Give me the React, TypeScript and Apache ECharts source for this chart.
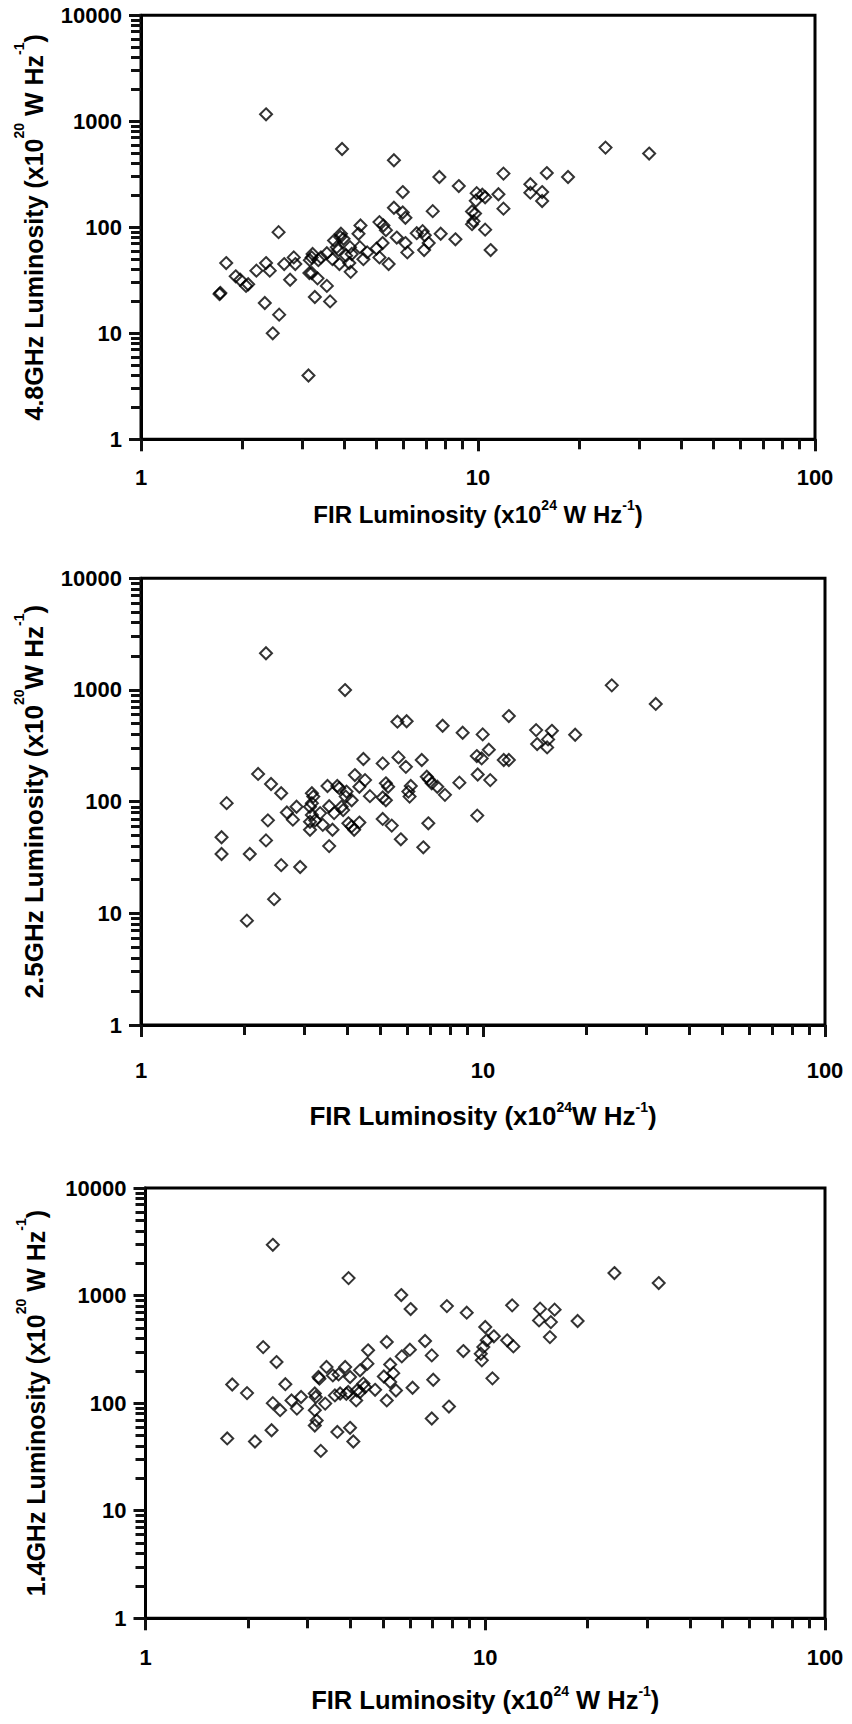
import React, { useEffect, useRef } from "react";
import * as echarts from "echarts";

// ---- Panel 1: 4.8 GHz vs FIR ----
const fir48 = [2.35, 3.95, 5.63, 7.68, 8.77, 5.98, 9.91, 10.3, 10.5, 9.85, 5.63, 7.34, 5.98, 6.09, 9.6, 9.8, 9.7, 9.6, 10.5, 10.9, 2.56, 5.1, 5.24, 5.33, 4.48, 4.42, 6.58, 6.85, 6.95, 7.75, 8.57, 5.74, 6.09, 6.17, 6.92, 7.14, 5.21, 5.0, 5.1, 5.43, 4.69, 4.57, 4.46, 4.17, 4.22, 3.99, 3.9, 3.92, 3.74, 3.81, 3.85, 4.06, 4.15, 4.19, 3.88, 3.7, 3.56, 3.42, 3.36, 3.23, 3.21, 3.17, 3.16, 3.21, 3.34, 3.56, 3.28, 3.64, 2.84, 2.87, 2.66, 2.77, 2.35, 2.41, 2.2, 1.79, 1.91, 1.97, 2.05, 2.08, 1.72, 1.71, 2.33, 2.57, 2.46, 3.14, 23.9, 32.2, 11.9, 16, 18.5, 14.3, 14.3, 15.5, 15.5, 11.5, 11.9];
const lum48 = [1164, 548, 429, 298, 245, 215, 210, 203, 192, 178, 153, 142, 138, 123, 141, 135, 114, 107, 95, 61, 90, 112, 104, 94, 104, 87, 88, 92, 84, 87, 77, 80, 71, 58, 61, 71, 71, 63, 52, 45, 58, 50, 65, 65, 56, 78, 81, 87, 75, 65, 61, 54, 46, 38, 45, 50, 57, 52, 49, 56, 52, 49, 37, 37, 33, 28, 22, 20, 52, 45, 45, 32, 46, 39, 39, 46, 34.5, 32, 28, 29, 24, 23.5, 19.3, 15, 10, 4.0, 565, 496, 321, 325, 298, 255, 212, 215, 177, 205, 150];

// ---- Panel 2: 2.5 GHz vs FIR ----
const fir25 = [2.32, 3.95, 23.8, 32, 5.62, 5.98, 7.62, 8.72, 9.98, 4.47, 5.09, 5.66, 5.95, 6.62, 9.59, 9.91, 9.65, 10.4, 10.5, 9.62, 2.2, 2.4, 2.57, 1.78, 1.72, 1.72, 2.08, 2.35, 2.32, 2.57, 2.92, 2.45, 2.04, 2.67, 2.78, 2.85, 3.16, 3.19, 3.16, 3.12, 3.16, 3.23, 3.12, 3.12, 3.34, 3.4, 3.55, 3.51, 3.75, 3.8, 3.67, 3.63, 3.55, 3.86, 3.9, 3.99, 4.13, 3.97, 4.22, 4.35, 4.52, 4.04, 4.13, 4.2, 4.35, 4.67, 5.09, 5.2, 5.2, 5.28, 5.09, 5.41, 5.75, 6.05, 6.1, 6.15, 6.85, 6.95, 7.08, 7.35, 7.74, 6.92, 6.69, 8.53, 11.9, 14.3, 15.9, 18.6, 14.4, 15.4, 15.5, 11.5, 11.9];
const lum25 = [2132, 998, 1100, 750, 520, 525, 478, 414, 400, 241, 220, 249, 205, 236, 256, 244, 175, 292, 156, 75, 177, 144, 119, 97, 48, 34, 34, 68, 45, 27, 26, 13.4, 8.6, 80, 69, 90, 119, 111, 97, 90, 76, 68, 66, 56, 79, 62, 91, 138, 138, 132, 79, 56, 40, 90, 84, 123, 103, 111, 173, 136, 156, 64, 60, 56, 65, 112, 109, 103, 146, 136, 70, 61, 46, 123, 111, 138, 167, 158, 146, 136, 115, 64, 39, 148, 584, 437, 431, 397, 328, 306, 361, 236, 236];

// ---- Panel 3: 1.4 GHz vs FIR ----
const fir14 = [2.37, 3.96, 5.66, 6.03, 7.71, 8.82, 10.0, 9.87, 10.1, 9.7, 9.77, 10.5, 2.22, 2.43, 1.8, 1.99, 2.58, 2.37, 2.49, 2.69, 2.87, 2.79, 2.35, 1.74, 2.1, 3.15, 3.17, 3.23, 3.25, 3.41, 3.15, 3.19, 3.15, 3.38, 3.56, 3.61, 3.74, 3.7, 3.87, 4.0, 3.95, 3.9, 3.67, 4.0, 4.09, 3.28, 4.28, 4.19, 4.28, 4.38, 4.17, 4.43, 4.52, 4.5, 4.74, 5.13, 5.25, 5.36, 5.25, 5.03, 5.46, 5.13, 5.68, 6.0, 6.11, 6.65, 6.96, 7.03, 6.96, 7.82, 8.62, 24.0, 32.4, 12.0, 14.5, 16.0, 18.7, 14.4, 15.6, 15.5, 10.6, 11.6, 12.1];
const lum14 = [2965, 1454, 1011, 749, 798, 693, 510, 332, 384, 288, 250, 170, 332, 241, 149, 124, 150, 100, 86, 106, 114, 89, 56, 47, 44, 123, 114, 175, 169, 217, 86, 69, 62, 99, 181, 118, 123, 185, 217, 175, 127, 122, 54, 59, 44, 36, 202, 131, 127, 152, 106, 141, 310, 233, 133, 370, 229, 190, 157, 177, 131, 106, 272, 314, 139, 378, 278, 165, 72, 93, 305, 1619, 1307, 811, 756, 740, 580, 588, 567, 411, 418, 384, 337];

// axis ranges (log scale)
const xRange = [1, 100];
const yRange = [1, 10000];

// axis titles: [main, superscript, main, superscript, main]
const yTitle48 = ["4.8GHz Luminosity (x10", "20", " W Hz", "-1", ")"];
const yTitle25 = ["2.5GHz Luminosity (x10", "20", "W Hz", "-1", ")"];
const yTitle14 = ["1.4GHz Luminosity (x10", "20", " W Hz", "-1", ")"];
const xTitle48 = ["FIR Luminosity (x10", "24", " W Hz", "-1", ")"];
const xTitle25 = ["FIR Luminosity (x10", "24", "W Hz", "-1", ")"];
const xTitle14 = ["FIR Luminosity (x10", "24", " W Hz", "-1", ")"];

const FONT = "'Liberation Sans', Arial, Helvetica, sans-serif";
const INK = "#111111";

const richName = (parts: string[]) =>
  `{m|${parts[0]}}{s|${parts[1]}}{m|${parts[2]}}{s|${parts[3]}}{m|${parts[4]}}`;

const panels = [
  {
    grid: { left: 141, top: 15.3, width: 674, height: 424 },
    fir: fir48, lum: lum48, yTitle: yTitle48, xTitle: xTitle48,
    xLabelMargin: 27.5, xNameGap: 59, yNameGap: 85, yNameSize: 25, xNameSize: 24,
  },
  {
    grid: { left: 141, top: 578.3, width: 684, height: 446.7 },
    fir: fir25, lum: lum25, yTitle: yTitle25, xTitle: xTitle25,
    xLabelMargin: 34, xNameGap: 75, yNameGap: 85, yNameSize: 26, xNameSize: 26,
  },
  {
    grid: { left: 145.5, top: 1188, width: 679.5, height: 430.3 },
    fir: fir14, lum: lum14, yTitle: yTitle14, xTitle: xTitle14,
    xLabelMargin: 28, xNameGap: 65.5, yNameGap: 88, yNameSize: 25, xNameSize: 25.5,
  },
];

const tickFmt = (v: number) => `${Math.round(v)}`;

function buildOption() {
  const grids: any[] = [];
  const xAxes: any[] = [];
  const yAxes: any[] = [];
  const series: any[] = [];

  panels.forEach((p, i) => {
    grids.push({
      ...p.grid,
      show: true,
      borderColor: "#000",
      borderWidth: 3,
      backgroundColor: "transparent",
      containLabel: false,
    });

    const common = {
      type: "log",
      logBase: 10,
      gridIndex: i,
      axisLine: { show: true, onZero: false, lineStyle: { color: "#000", width: 3 } },
      axisTick: { show: true, inside: false, length: 12, lineStyle: { color: INK, width: 3 } },
      minorTick: { show: true, splitNumber: 9, length: 10, lineStyle: { color: INK, width: 3 } },
      splitLine: { show: false },
      minorSplitLine: { show: false },
      nameLocation: "middle",
    };

    xAxes.push({
      ...common,
      position: "bottom",
      min: xRange[0],
      max: xRange[1],
      axisLabel: {
        show: true, margin: p.xLabelMargin, fontSize: 22, fontWeight: "bold",
        fontFamily: FONT, color: "#000", formatter: tickFmt,
      },
      name: richName(p.xTitle),
      nameGap: p.xNameGap,
      nameTextStyle: {
        rich: {
          m: { fontSize: p.xNameSize, fontWeight: "bold", fontFamily: FONT, color: "#000", lineHeight: 32 },
          s: { fontSize: 14, fontWeight: "bold", fontFamily: FONT, color: "#000", lineHeight: 14, verticalAlign: "top" },
        },
      },
    });

    yAxes.push({
      ...common,
      position: "left",
      min: yRange[0],
      max: yRange[1],
      axisLabel: {
        show: true, margin: 19, fontSize: 22, fontWeight: "bold",
        fontFamily: FONT, color: "#000", formatter: tickFmt,
      },
      name: richName(p.yTitle),
      nameRotate: 90,
      nameGap: p.yNameGap,
      nameTextStyle: {
        rich: {
          m: { fontSize: p.yNameSize, fontWeight: "bold", fontFamily: FONT, color: "#000", lineHeight: 44 },
          s: { fontSize: 14, fontWeight: "bold", fontFamily: FONT, color: "#000", lineHeight: 14, verticalAlign: "top" },
        },
      },
    });

    series.push({
      type: "scatter",
      xAxisIndex: i,
      yAxisIndex: i,
      symbol: "diamond",
      symbolSize: 12,
      z: 3,
      itemStyle: { color: "rgba(0,0,0,0)", borderColor: "#000", borderWidth: 2 },
      emphasis: { disabled: true },
      data: p.fir.map((x, k) => [x, p.lum[k]]),
    });
  });

  return {
    animation: false,
    backgroundColor: "#fff",
    grid: grids,
    xAxis: xAxes,
    yAxis: yAxes,
    series,
  };
}

export default function App() {
  const ref = useRef<HTMLDivElement>(null);
  useEffect(() => {
    if (!ref.current) return;
    const chart = echarts.init(ref.current, null, { renderer: "svg" });
    chart.setOption(buildOption() as any);
    return () => chart.dispose();
  }, []);
  return (
    <div
      ref={ref}
      style={{ position: "absolute", left: 0, top: 0, width: 852, height: 1724, background: "#fff" }}
    />
  );
}
